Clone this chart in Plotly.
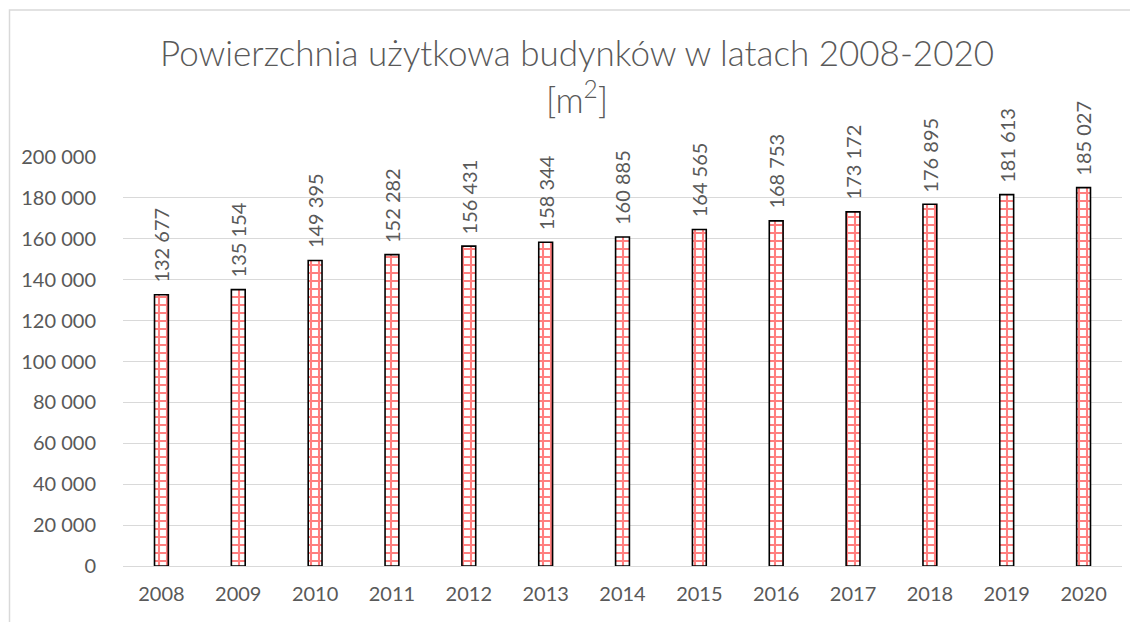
import plotly.graph_objects as go

years = ["2008", "2009", "2010", "2011", "2012", "2013", "2014",
         "2015", "2016", "2017", "2018", "2019", "2020"]
area = [132677, 135154, 149395, 152282, 156431, 158344, 160885,
        164565, 168753, 173172, 176895, 181613, 185027]
title_line1 = "Powierzchnia użytkowa budynków w latach 2008-2020"
title_line2 = "[m<sup>2</sup>]"

FONT = "Lato"
GRAY = "#595959"

OFF = 8  # default body margin of the html page
W, H = 1138 - OFF, 622 - OFF
# plot area in page pixels
PL, PR, PT, PB = 123, 1122, 157, 566
L, T = PL - OFF, PT - OFF
R, B = W - (PR - OFF), H - (PB - OFF)
pw, ph = W - L - R, H - T - B


def px_x(x):
    return (x - PL) / pw


def px_y(y):
    return (PB - y) / ph


def fmt(v):
    return f"{v:,}".replace(",", " ")


fig = go.Figure()
fig.add_trace(go.Bar(
    x=years, y=area,
    width=0.18,
    marker=dict(
        color="white",
        line=dict(color="black", width=1.6),
        pattern=dict(shape="+", fgcolor="#ff0000", bgcolor="white",
                     size=8, solidity=0.45),
    ),
    cliponaxis=False,
))

annotations = [
    dict(x=i, y=v, xref="x", yref="y", text=fmt(v),
         textangle=-90, showarrow=False, xanchor="center", yanchor="bottom",
         yshift=10, font=dict(family=FONT, size=20, color=GRAY))
    for i, v in enumerate(area)
]
annotations += [
    dict(text=title_line1, xref="paper", yref="paper",
         x=px_x(577), y=px_y(52), xanchor="center", yanchor="middle",
         showarrow=False,
         font=dict(family=FONT, size=35, color=GRAY, weight=300)),
    dict(text=title_line2, xref="paper", yref="paper",
         x=px_x(577), y=px_y(97), xanchor="center", yanchor="middle",
         showarrow=False,
         font=dict(family=FONT, size=35, color=GRAY, weight=300)),
]

fig.update_layout(
    width=W, height=H,
    margin=dict(l=L, r=R, t=T, b=B, pad=0),
    paper_bgcolor="white", plot_bgcolor="white",
    showlegend=False,
    font=dict(family=FONT, color=GRAY),
    xaxis=dict(type="category", categoryorder="array", categoryarray=years,
               range=[-0.5, len(years) - 0.5],
               showgrid=False, showline=False,
               ticks="outside", ticklen=10, tickcolor="rgba(0,0,0,0)",
               tickfont=dict(family=FONT, size=20, color=GRAY)),
    yaxis=dict(range=[0, 200000], tickmode="array",
               tickvals=list(range(0, 200001, 20000)),
               ticktext=[fmt(v) for v in range(0, 200001, 20000)],
               showgrid=True, gridcolor="#d9d9d9", gridwidth=1,
               zeroline=True, zerolinecolor="#d9d9d9", zerolinewidth=1,
               showline=False,
               ticks="outside", ticklen=22, tickcolor="rgba(0,0,0,0)",
               tickfont=dict(family=FONT, size=20, color=GRAY)),
    shapes=[dict(type="rect", xref="paper", yref="paper",
                 x0=px_x(9.5), x1=px_x(1150), y0=px_y(640), y1=px_y(10),
                 line=dict(color="#d9d9d9", width=1.5), layer="below")],
    annotations=annotations,
)

fig.write_html("out.html")
